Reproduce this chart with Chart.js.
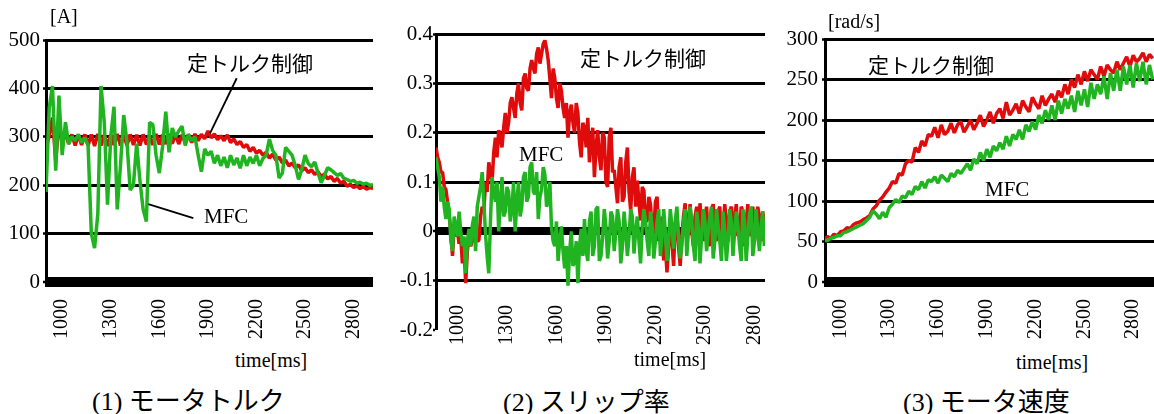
<!DOCTYPE html>
<html>
<head>
<meta charset="utf-8">
<script src="https://cdn.jsdelivr.net/npm/chart.js@4.4.0/dist/chart.umd.min.js"></script>
<style>
  html, body { margin: 0; padding: 0; background: #fff; overflow: hidden; }
  body { width: 1154px; height: 414px; position: relative; }
  canvas { position: absolute; top: 0; }
  .lbl {
    position: absolute;
    white-space: nowrap;
    line-height: 1;
    color: #000;
    font-family: "Liberation Serif", "Noto Sans CJK JP", serif;
  }
  .jp { font-family: "Noto Sans CJK JP", sans-serif; }
</style>
</head>
<body>
<canvas id="torqueChart" width="390" height="340" style="left:0px"></canvas>
<canvas id="slipChart" width="400" height="345" style="left:385px"></canvas>
<canvas id="speedChart" width="400" height="340" style="left:770px"></canvas>

<div class="lbl" style="left:50px;top:6px;font-size:20px">[A]</div>
<div class="lbl jp" style="left:187px;top:52px;font-size:21px">定トルク制御</div>
<div class="lbl" style="left:204px;top:206px;font-size:21px">MFC</div>
<div class="lbl" style="left:235px;top:350px;font-size:20px">time[ms]</div>
<div class="lbl" style="left:92px;top:386px;font-size:26px">(1) <span class="jp">モータトルク</span></div>

<div class="lbl jp" style="left:580px;top:47px;font-size:21px">定トルク制御</div>
<div class="lbl" style="left:519px;top:144px;font-size:21px">MFC</div>
<div class="lbl" style="left:634px;top:349px;font-size:20px">time[ms]</div>
<div class="lbl" style="left:503px;top:387px;font-size:26px">(2) <span class="jp">スリップ率</span></div>

<div class="lbl" style="left:828px;top:11px;font-size:20px">[rad/s]</div>
<div class="lbl jp" style="left:868px;top:54px;font-size:21px">定トルク制御</div>
<div class="lbl" style="left:985px;top:179px;font-size:21px">MFC</div>
<div class="lbl" style="left:1016px;top:352px;font-size:20px">time[ms]</div>
<div class="lbl" style="left:903px;top:387px;font-size:26px">(3) <span class="jp">モータ速度</span></div>

<script>
"use strict";

// sample times [ms] for torque and speed records (20 ms)
const timeMs = [
  900, 920, 940, 960, 980, 1000, 1020, 1040, 1060, 1080,
  1100, 1120, 1140, 1160, 1180, 1200, 1220, 1240, 1260, 1280,
  1300, 1320, 1340, 1360, 1380, 1400, 1420, 1440, 1460, 1480,
  1500, 1520, 1540, 1560, 1580, 1600, 1620, 1640, 1660, 1680,
  1700, 1720, 1740, 1760, 1780, 1800, 1820, 1840, 1860, 1880,
  1900, 1920, 1940, 1960, 1980, 2000, 2020, 2040, 2060, 2080,
  2100, 2120, 2140, 2160, 2180, 2200, 2220, 2240, 2260, 2280,
  2300, 2320, 2340, 2360, 2380, 2400, 2420, 2440, 2460, 2480,
  2500, 2520, 2540, 2560, 2580, 2600, 2620, 2640, 2660, 2680,
  2700, 2720, 2740, 2760, 2780, 2800, 2820, 2840, 2860, 2880,
  2900, 2920
];

// sample times [ms] for slip record (10 ms)
const slipTimeMs = [
  870, 880, 890, 900, 910, 920, 930, 940, 950, 960, 970, 980, 990, 1000, 1010, 1020, 1030, 1040, 1050, 1060,
  1070, 1080, 1090, 1100, 1110, 1120, 1130, 1140, 1150, 1160, 1170, 1180, 1190, 1200, 1210, 1220, 1230, 1240, 1250, 1260,
  1270, 1280, 1290, 1300, 1310, 1320, 1330, 1340, 1350, 1360, 1370, 1380, 1390, 1400, 1410, 1420, 1430, 1440, 1450, 1460,
  1470, 1480, 1490, 1500, 1510, 1520, 1530, 1540, 1550, 1560, 1570, 1580, 1590, 1600, 1610, 1620, 1630, 1640, 1650, 1660,
  1670, 1680, 1690, 1700, 1710, 1720, 1730, 1740, 1750, 1760, 1770, 1780, 1790, 1800, 1810, 1820, 1830, 1840, 1850, 1860,
  1870, 1880, 1890, 1900, 1910, 1920, 1930, 1940, 1950, 1960, 1970, 1980, 1990, 2000, 2010, 2020, 2030, 2040, 2050, 2060,
  2070, 2080, 2090, 2100, 2110, 2120, 2130, 2140, 2150, 2160, 2170, 2180, 2190, 2200, 2210, 2220, 2230, 2240, 2250, 2260,
  2270, 2280, 2290, 2300, 2310, 2320, 2330, 2340, 2350, 2360, 2370, 2380, 2390, 2400, 2410, 2420, 2430, 2440, 2450, 2460,
  2470, 2480, 2490, 2500, 2510, 2520, 2530, 2540, 2550, 2560, 2570, 2580, 2590, 2600, 2610, 2620, 2630, 2640, 2650, 2660,
  2670, 2680, 2690, 2700, 2710, 2720, 2730, 2740, 2750, 2760, 2770, 2780, 2790, 2800, 2810, 2820, 2830, 2840, 2850, 2860
];

// (1) motor torque [A]
const torqueConst = [
  280, 300, 340, 250, 330, 285, 310, 285, 305, 282,
  304, 283, 305, 282, 305, 281, 306, 282, 304, 281,
  305, 283, 306, 282, 304, 282, 305, 283, 304, 282,
  305, 284, 303, 283, 306, 284, 304, 285, 306, 286,
  305, 285, 304, 287, 305, 288, 306, 292, 305, 296,
  312, 298, 306, 294, 302, 292, 304, 288, 296, 284,
  290, 278, 284, 270, 278, 266, 272, 262, 268, 256,
  264, 252, 258, 246, 252, 240, 246, 236, 242, 230,
  236, 226, 232, 222, 228, 218, 223, 213, 218, 208,
  214, 204, 208, 198, 202, 195, 199, 193, 197, 192,
  195, 193
];
const torqueMfc = [
  186, 360, 405, 230, 385, 262, 330, 285, 300, 292,
  305, 288, 298, 282, 100, 70, 140, 405, 330, 160,
  300, 362, 150, 240, 345, 290, 190, 200, 286, 210,
  150, 125, 330, 325, 262, 225, 280, 352, 268, 318,
  300, 312, 322, 282, 305, 292, 300, 262, 228, 275,
  262, 270, 245, 262, 240, 258, 236, 262, 242, 256,
  235, 262, 240, 258, 245, 262, 240, 255, 262, 295,
  272, 262, 215, 225, 278, 270, 262, 240, 212, 232,
  262, 245, 238, 248, 226, 205, 220, 236, 232, 226,
  220, 224, 214, 212, 208, 210, 204, 206, 202, 204,
  200, 201
];

// (2) slip ratio
const slipConst = [
  0.17, 0.15, 0.14, 0.12, 0.12, 0.09, 0.085, 0.06, 0.03, 0.0, -0.05, 0.01, -0.01, 0.0, -0.025, -0.01, -0.065, -0.03, -0.105, -0.04,
  -0.01, -0.03, -0.02, 0.01, 0.022, -0.02, -0.018, 0.03, 0.05, 0.04, 0.10, 0.08, 0.14, 0.12, 0.10, 0.16, 0.19, 0.15, 0.205, 0.19,
  0.17, 0.21, 0.24, 0.20, 0.22, 0.26, 0.272, 0.25, 0.23, 0.28, 0.30, 0.26, 0.245, 0.31, 0.32, 0.29, 0.285, 0.33, 0.347, 0.33,
  0.32, 0.36, 0.373, 0.34, 0.36, 0.38, 0.387, 0.37, 0.347, 0.31, 0.27, 0.33, 0.31, 0.27, 0.25, 0.30, 0.285, 0.25, 0.23, 0.26,
  0.19, 0.24, 0.257, 0.22, 0.20, 0.26, 0.24, 0.18, 0.15, 0.22, 0.21, 0.17, 0.23, 0.14, 0.18, 0.21, 0.11, 0.17, 0.205, 0.15,
  0.124, 0.20, 0.19, 0.10, 0.09, 0.19, 0.21, 0.12, 0.124, 0.09, 0.057, 0.13, 0.15, 0.06, 0.07, 0.14, 0.17, 0.08, 0.042, 0.11,
  0.13, 0.05, 0.103, 0.06, 0.022, 0.09, 0.083, 0.02, 0.022, 0.07, 0.055, 0.0, 0.002, 0.06, 0.07, -0.02, -0.012, 0.03, -0.059, -0.03,
  -0.083, -0.03, 0.02, -0.02, -0.07, 0.01, 0.04, -0.03, -0.07, -0.01, 0.03, 0.057, -0.01, 0.02, 0.055, 0.0, -0.03, 0.03, 0.05, -0.02,
  0.057, 0.01, -0.02, 0.03, 0.05, -0.01, -0.03, 0.045, 0.055, 0.0, -0.02, 0.04, 0.05, -0.03, 0.0, 0.055, 0.02, -0.02, 0.04, 0.05,
  -0.02, 0.03, 0.055, -0.01, 0.0, 0.05, 0.04, -0.03, 0.02, 0.055, -0.01, 0.03, 0.05, -0.02, 0.01, 0.05, 0.03, -0.02, 0.04, 0.02
];
const slipMfc = [
  0.15, 0.13, 0.11, 0.06, 0.09, 0.05, 0.025, 0.06, 0.045, -0.02, -0.04, 0.03, 0.01, -0.01, 0.04, 0.0, -0.03, -0.01, -0.085, -0.02,
  0.005, -0.03, 0.012, 0.03, -0.04, 0.05, 0.07, 0.09, 0.12, 0.06, -0.005, -0.05, -0.085, 0.02, 0.11, 0.08, 0.06, 0.10, 0.0, 0.06,
  0.11, 0.03, 0.04, 0.09, 0.08, 0.02, 0.045, 0.10, 0.0, 0.06, 0.10, 0.03, 0.05, 0.11, 0.12, 0.06, 0.07, 0.13, 0.14, 0.08,
  0.075, 0.12, 0.025, 0.07, 0.085, 0.13, 0.115, 0.05, 0.06, 0.10, 0.008, -0.02, -0.03, 0.02, -0.06, -0.02, 0.01, -0.04, -0.075, -0.03,
  -0.11, -0.04, 0.0, -0.07, -0.06, -0.02, -0.105, -0.03, 0.005, -0.05, 0.025, -0.04, -0.06, 0.02, 0.04, -0.05, -0.03, 0.045, 0.05, -0.06,
  -0.05, -0.01, 0.045, 0.01, -0.055, -0.02, 0.04, 0.03, -0.04, 0.0, 0.045, 0.02, -0.065, -0.03, 0.04, 0.0, -0.05, -0.01, 0.045, 0.03,
  -0.045, 0.0, 0.03, -0.02, -0.065, 0.01, 0.045, 0.02, -0.02, -0.05, 0.04, 0.01, -0.055, -0.02, 0.02, 0.045, -0.05, -0.01, 0.045, 0.0,
  -0.06, -0.02, 0.045, 0.01, -0.035, 0.02, 0.05, -0.01, -0.055, -0.03, 0.02, 0.045, -0.05, 0.0, 0.05, 0.02, -0.03, -0.06, 0.04, 0.01,
  -0.065, -0.01, 0.045, 0.02, -0.04, 0.0, 0.03, 0.05, -0.055, -0.02, 0.045, 0.01, -0.02, -0.06, 0.04, 0.0, -0.06, -0.02, 0.045, 0.02,
  -0.05, 0.0, 0.04, 0.01, -0.03, -0.06, 0.045, 0.02, -0.06, -0.01, 0.035, 0.05, -0.05, -0.02, 0.045, 0.0, -0.04, 0.01, 0.04, -0.03
];

// (3) motor speed [rad/s]
const speedConst = [
  53, 56, 54, 59, 57, 62, 63, 67, 66, 71,
  73, 74, 77, 79, 82, 90, 94, 101, 105, 111,
  116, 124, 122, 134, 132, 146, 150, 148, 166, 160,
  174, 168, 182, 180, 191, 178, 194, 182, 186, 196,
  184, 194, 198, 185, 192, 200, 188, 196, 206, 192,
  200, 210, 196, 208, 214, 202, 222, 206, 212, 220,
  208, 224, 216, 210, 228, 220, 214, 230, 218, 226,
  232, 222, 236, 228, 244, 232, 250, 240, 256, 244,
  260, 248, 262, 256, 250, 266, 254, 268, 262, 258,
  272, 262, 270, 278, 266, 280, 272, 276, 283, 272,
  281, 276
];
const speedMfc = [
  52, 51, 54, 55, 57, 57, 61, 62, 64, 66,
  68, 70, 72, 76, 80, 88, 84, 78, 86, 80,
  92, 96, 102, 98, 106, 104, 112, 108, 118, 114,
  124, 116, 126, 124, 130, 122, 132, 128, 124, 134,
  130, 138, 134, 140, 146, 138, 152, 146, 160, 150,
  164, 154, 168, 162, 172, 164, 180, 168, 182, 176,
  188, 176, 194, 186, 198, 188, 206, 196, 212, 200,
  218, 200, 224, 208, 226, 214, 230, 210, 236, 218,
  238, 216, 246, 226, 244, 232, 254, 226, 258, 236,
  262, 236, 266, 244, 268, 240, 270, 248, 272, 244,
  268, 250
];

// tick labels
const timeTicks = [1000, 1300, 1600, 1900, 2200, 2500, 2800];
const torqueTicks = [0, 100, 200, 300, 400, 500];
const slipTicks = [-0.2, -0.1, 0, 0.1, 0.2, 0.3, 0.4];
const speedTicks = [0, 50, 100, 150, 200, 250, 300];

// leader lines in panel (1): [t1, v1, t2, v2]
const torqueLeaders = [
  [2078, 421, 1913, 307],
  [1532, 161, 1810, 132],
];

const RED = "#e00b0b";
const GREEN = "#21b421";
const SERIF = "'Liberation Serif', serif";

Chart.defaults.font.family = SERIF;
Chart.defaults.color = "#000";

function toPoints(times, values) {
  return times.map((t, i) => ({ x: t, y: values[i] }));
}

const leaderPlugin = {
  id: "leaderLines",
  afterDatasetsDraw(chart, args, opts) {
    if (!opts.lines) return;
    const { ctx } = chart;
    const xs = chart.scales.x;
    const ys = chart.scales.y;
    ctx.save();
    ctx.strokeStyle = "#000";
    ctx.lineWidth = 1.8;
    opts.lines.forEach(([t1, v1, t2, v2]) => {
      ctx.beginPath();
      ctx.moveTo(xs.getPixelForValue(t1), ys.getPixelForValue(v1));
      ctx.lineTo(xs.getPixelForValue(t2), ys.getPixelForValue(v2));
      ctx.stroke();
    });
    ctx.restore();
  },
};

function makeChart(id, cfg) {
  const ctx = document.getElementById(id).getContext("2d");

  const xScale = {
    type: "linear",
    axis: "x",
    position: cfg.xPosition || "bottom",
    min: cfg.xMin,
    max: cfg.xMax,
    afterBuildTicks: (scale) => {
      scale.ticks = timeTicks.map((v) => ({ value: v }));
    },
    grid: { display: false },
    border: { display: false },
    ticks: {
      autoSkip: false,
      minRotation: 90,
      maxRotation: 90,
      padding: cfg.xPad,
      color: "#000",
      font: { family: SERIF, size: 20 },
      callback: (v) => String(v),
    },
  };
  if (cfg.xHeight) {
    xScale.afterFit = (scale) => {
      scale.height = cfg.xHeight;
    };
  }

  return new Chart(ctx, {
    type: "line",
    data: {
      datasets: [
        {
          label: "MFC",
          data: toPoints(cfg.times, cfg.mfc),
          borderColor: GREEN,
          borderWidth: 3.5,
        },
        {
          label: "定トルク制御",
          data: toPoints(cfg.times, cfg.constTorque),
          borderColor: RED,
          borderWidth: 3.5,
        },
      ],
    },
    options: {
      responsive: false,
      animation: false,
      devicePixelRatio: 1,
      events: [],
      elements: {
        point: { radius: 0 },
        line: { tension: 0, borderJoinStyle: "bevel", fill: false },
      },
      layout: {
        padding: { left: 0, top: cfg.padTop, right: cfg.padRight, bottom: cfg.padBottom || 0 },
      },
      plugins: {
        legend: { display: false },
        tooltip: { enabled: false },
        leaderLines: { lines: cfg.leaders || null },
      },
      scales: {
        x: xScale,
        y: {
          type: "linear",
          min: cfg.yTicks[0],
          max: cfg.yTicks[cfg.yTicks.length - 1],
          afterBuildTicks: (scale) => {
            scale.ticks = cfg.yTicks.map((v) => ({ value: v }));
          },
          afterFit: (scale) => {
            scale.width = cfg.yWidth;
          },
          grid: {
            color: "#000",
            lineWidth: (c) => cfg.gridWidth(c.tick.value),
            tickLength: 3,
            tickWidth: 2.5,
            tickColor: "#000",
          },
          border: { display: true, color: "#000", width: 3 },
          ticks: {
            padding: cfg.yPad,
            color: "#000",
            font: { family: SERIF, size: 21 },
            callback: (v) => String(Number(v.toFixed(1))),
          },
        },
      },
    },
    plugins: [leaderPlugin],
  });
}

makeChart("torqueChart", {
  times: timeMs,
  mfc: torqueMfc,
  constTorque: torqueConst,
  yTicks: torqueTicks,
  xMin: 900,
  xMax: 2920,
  padTop: 40,
  padRight: 17,
  yWidth: 46,
  xHeight: 58,
  xPad: 9,
  yPad: 3,
  leaders: torqueLeaders,
  gridWidth: (v) => (v === 0 ? 10 : 3),
});

makeChart("slipChart", {
  times: slipTimeMs,
  mfc: slipMfc,
  constTorque: slipConst,
  yTicks: slipTicks,
  xMin: 870,
  xMax: 2864,
  xPosition: { y: -0.2 },
  padTop: 34,
  padRight: 20,
  padBottom: 15,
  yWidth: 51,
  xPad: -33,
  yPad: 0,
  gridWidth: (v) => (Math.abs(v) < 1e-9 ? 8 : v < -0.15 ? 0 : 3),
});

makeChart("speedChart", {
  times: timeMs,
  mfc: speedMfc,
  constTorque: speedConst,
  yTicks: speedTicks,
  xMin: 905,
  xMax: 2928,
  padTop: 39,
  padRight: 16,
  yWidth: 55,
  xHeight: 58,
  xPad: 9,
  yPad: 4,
  gridWidth: (v) => (v === 0 ? 10 : 3),
});
</script>
</body>
</html>
